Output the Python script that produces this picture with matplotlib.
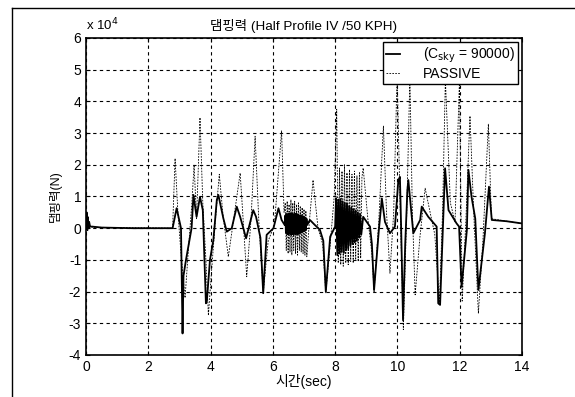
import numpy as np
import matplotlib.pyplot as plt
from matplotlib.lines import Line2D

plt.rcParams['font.family'] = ['Liberation Sans', 'Noto Sans CJK KR']
plt.rcParams['axes.unicode_minus'] = False

# damping force, units of 1e4 N
# active control (C_sky = 90000), solid line
active_t = [0.0, 0.02, 0.04, 0.06, 0.08, 0.10, 0.13, 0.2, 0.5, 1.5, 2.78,
            2.91, 3.05, 3.10, 3.13, 3.21, 3.39, 3.45, 3.55, 3.66, 3.75, 3.85, 3.88,
            3.98, 4.09, 4.20, 4.25, 4.41, 4.52, 4.68, 4.84, 4.95, 5.14, 5.37, 5.46,
            5.60, 5.69, 5.80, 6.02, 6.18, 6.28, 6.38,
            6.40, 6.42, 6.44, 6.46, 6.48, 6.50, 6.52, 6.54, 6.56, 6.58, 6.60, 6.62,
            6.64, 6.66, 6.68, 6.70, 6.72, 6.74, 6.76, 6.78, 6.80, 6.82, 6.84, 6.86,
            6.88, 6.90, 6.92, 6.94, 6.96, 6.98, 7.00, 7.02, 7.04, 7.06, 7.08, 7.10,
            7.19, 7.35, 7.51, 7.62, 7.70, 7.84, 8.00,
            8.03, 8.07, 8.10, 8.14, 8.17, 8.21, 8.24, 8.28, 8.31, 8.35, 8.38, 8.42,
            8.45, 8.49, 8.52, 8.56, 8.59, 8.63, 8.66, 8.70, 8.73, 8.77, 8.80, 8.84,
            8.90, 9.12, 9.18, 9.25, 9.40, 9.50, 9.60, 9.76, 9.92, 10.03, 10.08, 10.12,
            10.18, 10.25, 10.32, 10.35, 10.40, 10.51, 10.73, 10.78, 10.99, 11.26, 11.31,
            11.37, 11.45, 11.53, 11.64, 11.90, 11.98, 12.06, 12.23, 12.28, 12.38, 12.50,
            12.60, 12.81, 12.94, 13.03, 13.50, 14.0]
active_f = [0.0, 0.50, -0.05, 0.35, 0.0, 0.20, 0.05, 0.05, 0.02, 0.0, 0.0,
            0.63, 0.0, -3.32, -1.50, -1.00, 0.0, 1.05, 0.36, 0.99, 0.57, -2.37, -2.30,
            -1.00, -0.37, 0.89, 1.05, 0.31, -0.11, 0.0, 0.68, 0.36, -0.32, 0.57, 0.36,
            -0.30, -2.05, -0.21, 0.0, 0.63, 0.26, 0.10,
            0.40, -0.15, 0.45, -0.18, 0.42, -0.20, 0.46, -0.16, 0.44, -0.21, 0.47, -0.18,
            0.43, -0.20, 0.45, -0.17, 0.44, -0.19, 0.46, -0.16, 0.42, -0.18, 0.40, -0.15,
            0.41, -0.14, 0.38, -0.12, 0.36, -0.10, 0.35, -0.08, 0.33, -0.05, 0.30, 0.10,
            0.26, 0.10, -0.05, -0.40, -2.00, -0.27, 0.05,
            0.95, -0.85, 0.90, -0.80, 0.92, -0.75, 0.85, -0.78, 0.80, -0.70, 0.78, -0.65,
            0.70, -0.55, 0.65, -0.50, 0.60, -0.45, 0.55, -0.40, 0.50, -0.30, 0.45, -0.20,
            0.36, 0.05, -0.50, -1.95, -0.10, 0.94, 0.20, -0.16, 0.05, 1.52, 1.62, 0.0,
            -2.90, -0.50, 1.20, 1.52, 0.99, -0.16, 0.26, 0.68, 0.36, 0.05, -2.37,
            -2.42, -0.30, 1.89, 0.57, 0.15, 0.05, -1.85, -0.06, 1.84, 0.99, 0.30,
            -1.95, -0.16, 1.31, 0.26, 0.22, 0.15]

# passive suspension, dashed line
passive_t = [0.0, 0.02, 0.05, 0.10, 0.2, 2.78, 2.86, 2.95, 3.05, 3.18, 3.30, 3.40,
             3.47, 3.55, 3.66, 3.75, 3.85, 3.93, 4.02, 4.15, 4.28, 4.40, 4.57, 4.70,
             4.95, 5.05, 5.16, 5.30, 5.43, 5.55, 5.69, 5.85, 6.05, 6.28, 6.36,
             6.40, 6.43, 6.46, 6.49, 6.52, 6.55, 6.58, 6.61, 6.64, 6.67, 6.70, 6.73,
             6.76, 6.79, 6.82, 6.85, 6.88, 6.91, 6.94, 6.97, 7.00, 7.03, 7.06, 7.09,
             7.18, 7.29, 7.45, 7.60, 7.70, 7.85, 7.97, 8.05,
             8.10, 8.14, 8.18, 8.22, 8.26, 8.30, 8.34, 8.38, 8.42, 8.46, 8.50, 8.54,
             8.58, 8.62, 8.66, 8.70, 8.74, 8.78, 8.82, 8.86, 8.90,
             9.05, 9.18, 9.25, 9.40, 9.55, 9.65, 9.76, 9.88, 9.99, 10.08, 10.19, 10.30,
             10.40, 10.48, 10.57, 10.72, 10.89, 11.05, 11.20, 11.35, 11.45, 11.54, 11.70,
             11.85, 11.99, 12.08, 12.20, 12.33, 12.45, 12.60, 12.75, 12.92, 13.02,
             13.50, 14.0]
passive_f = [0.0, 0.45, -0.10, 0.10, 0.03, 0.0, 2.20, 0.50, -0.80, -2.20, -0.50, 0.80,
             2.00, 0.30, 3.49, 0.80, -1.00, -2.75, -1.50, 0.20, 1.70, 0.40, -0.90, 0.0,
             1.74, 0.20, -1.53, 0.30, 2.90, 0.20, -2.05, -0.40, 0.10, 3.07, 0.50,
             0.80, -0.70, 0.85, -0.80, 0.75, -0.75, 0.90, -0.85, 0.80, -0.70, 0.85,
             -0.80, 0.75, -0.85, 0.80, -0.70, 0.70, -0.75, 0.65, -0.80, 0.60, -0.85,
             0.55, -0.90, 0.30, 1.52, 0.0, -0.50, -2.05, -0.40, 1.00, 3.75,
             -1.10, 1.90, -1.15, 1.80, -1.20, 2.00, -1.10, 1.75, -1.15, 1.85, -1.05,
             1.70, -1.10, 1.80, -1.00, 1.65, -1.05, 1.75, -0.95, 1.60, 1.90,
             0.30, -0.80, -2.00, 0.20, 3.22, 0.50, -1.42, 0.50, 4.90, 1.00,
             -3.20, 0.50, 4.80, 0.50, -2.10, -0.30, 1.26, 0.50, -0.20, -2.35, 0.50, 4.70,
             0.80, 0.20, 4.60, -2.30, 0.30, 3.54, 0.50, -2.69, -0.30, 3.28, 0.30,
             0.22, 0.15]

title = '댐핑력 (Half Profile IV /50 KPH)'
x_label = '시간(sec)'
y_label = '댐핑력(N)'
x_ticks = [0, 2, 4, 6, 8, 10, 12, 14]
y_ticks = [-4, -3, -2, -1, 0, 1, 2, 3, 4, 5, 6]

fig = plt.figure(figsize=(5.75, 3.97), dpi=100)
ax = fig.add_axes([0.1496, 0.1058, 0.7582, 0.7985])

ax.plot(active_t, active_f, color='black', linewidth=1.3, label=r'(C$_{\mathrm{sky}}$ = 90000)')
ax.plot(passive_t, passive_f, color='black', linewidth=0.6, linestyle=(0, (2, 1.5)), label='PASSIVE')

ax.set_xlim(0, 14)
ax.set_ylim(-4, 6)
ax.set_xticks(x_ticks)
ax.set_yticks(y_ticks)
ax.tick_params(direction='in', top=True, right=True, labelsize=10, length=3, width=0.8)
ax.grid(True, color='black', linestyle=(0, (3, 3)), linewidth=0.8)
for sp in ax.spines.values():
    sp.set_linewidth(1.2)

ax.set_title(title, fontsize=9.7, pad=6)
ax.set_xlabel(x_label, fontsize=10, labelpad=0)
ax.set_ylabel(y_label, fontsize=9, labelpad=5)
ax.text(0.0, 1.015, r'x 10$^4$', transform=ax.transAxes, fontsize=9.5, ha='left', va='bottom')

leg = ax.legend(loc='upper right', fontsize=10, frameon=True, fancybox=False,
                edgecolor='black', framealpha=1, handlelength=1.0, borderaxespad=0.3,
                borderpad=0.25, labelspacing=0.15, handletextpad=1.6)
leg.get_frame().set_linewidth(1.0)

# scan frame
fig.add_artist(Line2D([12 / 575, 12 / 575], [0, 1 - 8 / 397], transform=fig.transFigure, color='black', linewidth=1))
fig.add_artist(Line2D([12 / 575, 1], [1 - 8 / 397, 1 - 8 / 397], transform=fig.transFigure, color='black', linewidth=1))

fig.savefig('out.png', dpi=100)
